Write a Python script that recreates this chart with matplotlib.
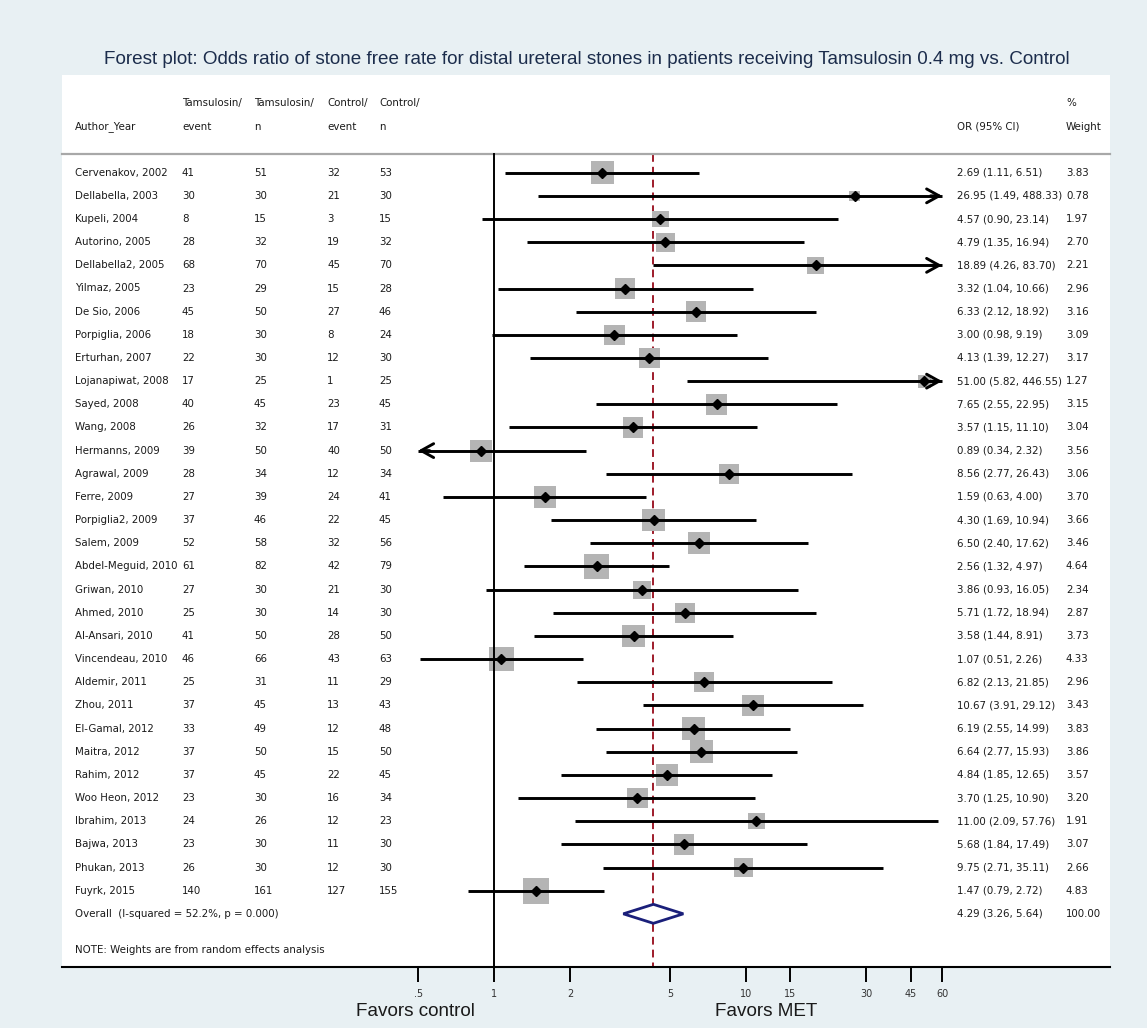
import matplotlib
matplotlib.use('Agg')
import matplotlib.pyplot as plt
from matplotlib import font_manager
from matplotlib.font_manager import FontProperties
from matplotlib.patches import Polygon
from matplotlib.transforms import blended_transform_factory
import numpy as np

# study data
authors = ['Cervenakov, 2002', 'Dellabella, 2003', 'Kupeli, 2004', 'Autorino, 2005',
           'Dellabella2, 2005', 'Yilmaz, 2005', 'De Sio, 2006', 'Porpiglia, 2006',
           'Erturhan, 2007', 'Lojanapiwat, 2008', 'Sayed, 2008', 'Wang, 2008',
           'Hermanns, 2009', 'Agrawal, 2009', 'Ferre, 2009', 'Porpiglia2, 2009',
           'Salem, 2009', 'Abdel-Meguid, 2010', 'Griwan, 2010', 'Ahmed, 2010',
           'Al-Ansari, 2010', 'Vincendeau, 2010', 'Aldemir, 2011', 'Zhou, 2011',
           'El-Gamal, 2012', 'Maitra, 2012', 'Rahim, 2012', 'Woo Heon, 2012',
           'Ibrahim, 2013', 'Bajwa, 2013', 'Phukan, 2013', 'Fuyrk, 2015']
tam_event = [41, 30, 8, 28, 68, 23, 45, 18, 22, 17, 40, 26, 39, 28, 27, 37,
             52, 61, 27, 25, 41, 46, 25, 37, 33, 37, 37, 23, 24, 23, 26, 140]
tam_n = [51, 30, 15, 32, 70, 29, 50, 30, 30, 25, 45, 32, 50, 34, 39, 46,
         58, 82, 30, 30, 50, 66, 31, 45, 49, 50, 45, 30, 26, 30, 30, 161]
ctl_event = [32, 21, 3, 19, 45, 15, 27, 8, 12, 1, 23, 17, 40, 12, 24, 22,
             32, 42, 21, 14, 28, 43, 11, 13, 12, 15, 22, 16, 12, 11, 12, 127]
ctl_n = [53, 30, 15, 32, 70, 28, 46, 24, 30, 25, 45, 31, 50, 34, 41, 45,
         56, 79, 30, 30, 50, 63, 29, 43, 48, 50, 45, 34, 23, 30, 30, 155]
odds = [2.69, 26.95, 4.57, 4.79, 18.89, 3.32, 6.33, 3.00, 4.13, 51.00, 7.65, 3.57,
        0.89, 8.56, 1.59, 4.30, 6.50, 2.56, 3.86, 5.71, 3.58, 1.07, 6.82, 10.67,
        6.19, 6.64, 4.84, 3.70, 11.00, 5.68, 9.75, 1.47]
ci_lo = [1.11, 1.49, 0.90, 1.35, 4.26, 1.04, 2.12, 0.98, 1.39, 5.82, 2.55, 1.15,
         0.34, 2.77, 0.63, 1.69, 2.40, 1.32, 0.93, 1.72, 1.44, 0.51, 2.13, 3.91,
         2.55, 2.77, 1.85, 1.25, 2.09, 1.84, 2.71, 0.79]
ci_hi = [6.51, 488.33, 23.14, 16.94, 83.70, 10.66, 18.92, 9.19, 12.27, 446.55, 22.95, 11.10,
         2.32, 26.43, 4.00, 10.94, 17.62, 4.97, 16.05, 18.94, 8.91, 2.26, 21.85, 29.12,
         14.99, 15.93, 12.65, 10.90, 57.76, 17.49, 35.11, 2.72]
weight = [3.83, 0.78, 1.97, 2.70, 2.21, 2.96, 3.16, 3.09, 3.17, 1.27, 3.15, 3.04,
          3.56, 3.06, 3.70, 3.66, 3.46, 4.64, 2.34, 2.87, 3.73, 4.33, 2.96, 3.43,
          3.83, 3.86, 3.57, 3.20, 1.91, 3.07, 2.66, 4.83]

overall_or = 4.29
overall_lo = 3.26
overall_hi = 5.64
overall_label = 'Overall  (I-squared = 52.2%, p = 0.000)'

ticks = [0.5, 1, 2, 5, 10, 15, 30, 45, 60]
tick_labels = ['.5', '1', '2', '5', '10', '15', '30', '45', '60']

title = ('Forest plot: Odds ratio of stone free rate for distal ureteral stones in patients '
         'receiving Tamsulosin 0.4 mg vs. Control')

W, H = 1147, 1028

# look for a narrow sans face for the table text, else plain Liberation Sans
narrow_file = None
cands = []
for f in font_manager.fontManager.ttflist:
    if f.style != 'normal' or f.weight not in (400, 'normal', 'regular'):
        continue
    if 'Narrow' in f.name or 'Condensed' in f.name or f.stretch in ('condensed', 'semi-condensed'):
        rank = 0 if 'Liberation' in f.name else (1 if 'Arial' in f.name else 2)
        cands.append((rank, f.fname))
if cands:
    cands.sort()
    narrow_file = cands[0][1]


def narrow_prop(size):
    if narrow_file:
        return FontProperties(fname=narrow_file, size=size)
    return FontProperties(family='Liberation Sans', size=size)


def wide_prop(size):
    return FontProperties(family='Liberation Sans', size=size)


bg = '#e8f0f3'
txt = '#1a1a1a'

fig = plt.figure(figsize=(W / 100.0, H / 100.0), dpi=100, facecolor=bg)
renderer = fig.canvas.get_renderer()


def fit_size(s, propfn, target_px, start=10.0):
    # font size that gives the wanted pixel width
    t = fig.text(0, 0, s, fontproperties=propfn(start))
    w = t.get_window_extent(renderer).width
    t.remove()
    return start * target_px / w


fs = fit_size('Cervenakov, 2002', narrow_prop, 93.0)
fs_tick = fs * 0.95
fs_title = fit_size(title, wide_prop, 975.0)
fs_fav = fit_size('Favors control', wide_prop, 120.0)

# plot panel in pixels: x 62..1110, y 75..967
px_one = 494.0
decade = 252.0
row0 = 172.7
step = 23.16
ax = fig.add_axes([62.0 / W, 1 - 967.0 / H, (1110 - 62.0) / W, (967 - 75.0) / H])
ax.set_facecolor('white')
ax.set_xscale('log')
ax.set_xlim(10 ** ((62 - px_one) / decade), 10 ** ((1110 - px_one) / decade))
ybot = (967 - row0) / step
ytop = (75 - row0) / step
ax.set_ylim(ybot, ytop)

for s in ['top', 'left', 'right']:
    ax.spines[s].set_visible(False)
ax.spines['bottom'].set_linewidth(1.5)
ax.set_yticks([])
ax.xaxis.set_minor_locator(matplotlib.ticker.NullLocator())
ax.set_xticks(ticks)
ax.set_xticklabels(tick_labels, fontproperties=narrow_prop(fs_tick), color='#333333')
ax.tick_params(axis='x', direction='out', length=11, width=1.4, pad=5)

clip_lo, clip_hi = ticks[0], ticks[-1]
sep_y = (154 - row0) / step

# header separator and reference lines
ax.plot(ax.get_xlim(), [sep_y, sep_y], color='#a8a8a8', lw=1.6, zorder=1, clip_on=False)
ax.plot([1, 1], [sep_y, ybot], color='black', lw=1.4, zorder=2)
ax.plot([overall_or, overall_or], [sep_y, ybot], color='#9e1b2a', lw=1.4,
        ls=(0, (4, 2.6)), zorder=0.5)

y = np.arange(len(authors))

# weight boxes
side_px = 11.7 * np.sqrt(np.array(weight))
ax.scatter(odds, y, s=(side_px / 1.389) ** 2, marker='s', color='#b4b4b4',
           linewidths=0, zorder=1)

for i in range(len(authors)):
    lo = max(ci_lo[i], clip_lo)
    hi = min(ci_hi[i], clip_hi)
    ax.plot([lo, hi], [i, i], color='black', lw=2.1, solid_capstyle='butt', zorder=3)
    if ci_hi[i] > clip_hi:
        ax.annotate('', xy=(clip_hi, i), xytext=(clip_hi * 0.9, i),
                    arrowprops=dict(arrowstyle='->,head_length=0.9,head_width=0.5',
                                    lw=2.1, color='black', shrinkA=0, shrinkB=0),
                    zorder=3)
    if ci_lo[i] < clip_lo:
        ax.annotate('', xy=(clip_lo, i), xytext=(clip_lo / 0.9, i),
                    arrowprops=dict(arrowstyle='->,head_length=0.9,head_width=0.5',
                                    lw=2.1, color='black', shrinkA=0, shrinkB=0),
                    zorder=3)

ax.plot(odds, y, ls='none', marker='D', ms=4.6, color='black', zorder=4)

# pooled estimate diamond
oy = len(authors)
dh = 0.41
dia = Polygon([[overall_lo, oy], [overall_or, oy - dh], [overall_hi, oy], [overall_or, oy + dh]],
              closed=True, facecolor='white', edgecolor='#1a1f7a', lw=2.0, zorder=4)
ax.add_patch(dia)

# table columns
tr = blended_transform_factory(fig.transFigure, ax.transData)
col_x = [75, 182, 254, 327, 379]
or_x = 957
wt_x = 1066


def put(xpix, yrow, s):
    ax.text(xpix / W, yrow, s, transform=tr, ha='left', va='center',
            fontproperties=narrow_prop(fs), color=txt, clip_on=False)


h1 = (103 - row0) / step
h2 = (126.7 - row0) / step
put(col_x[0], h2, 'Author_Year')
put(col_x[1], h1, 'Tamsulosin/')
put(col_x[1], h2, 'event')
put(col_x[2], h1, 'Tamsulosin/')
put(col_x[2], h2, 'n')
put(col_x[3], h1, 'Control/')
put(col_x[3], h2, 'event')
put(col_x[4], h1, 'Control/')
put(col_x[4], h2, 'n')
put(or_x, h2, 'OR (95% CI)')
put(wt_x, h1, '%')
put(wt_x, h2, 'Weight')

for i in range(len(authors)):
    put(col_x[0], i, authors[i])
    put(col_x[1], i, str(tam_event[i]))
    put(col_x[2], i, str(tam_n[i]))
    put(col_x[3], i, str(ctl_event[i]))
    put(col_x[4], i, str(ctl_n[i]))
    put(or_x, i, '%.2f (%.2f, %.2f)' % (odds[i], ci_lo[i], ci_hi[i]))
    put(wt_x, i, '%.2f' % weight[i])

put(col_x[0], oy, overall_label)
put(or_x, oy, '%.2f (%.2f, %.2f)' % (overall_or, overall_lo, overall_hi))
put(wt_x, oy, '%.2f' % sum(weight))
put(col_x[0], (950 - row0) / step, 'NOTE: Weights are from random effects analysis')

fig.text(587.0 / W, 1 - 60.0 / H, title, ha='center', va='center',
         fontproperties=wide_prop(fs_title), color='#1c2d4c')
fig.text(415.0 / W, 1 - 1012.0 / H, 'Favors control', ha='center', va='center',
         fontproperties=wide_prop(fs_fav), color=txt)
fig.text(766.0 / W, 1 - 1012.0 / H, 'Favors MET', ha='center', va='center',
         fontproperties=wide_prop(fs_fav), color=txt)

fig.savefig('out.png', dpi=100, facecolor=bg)
